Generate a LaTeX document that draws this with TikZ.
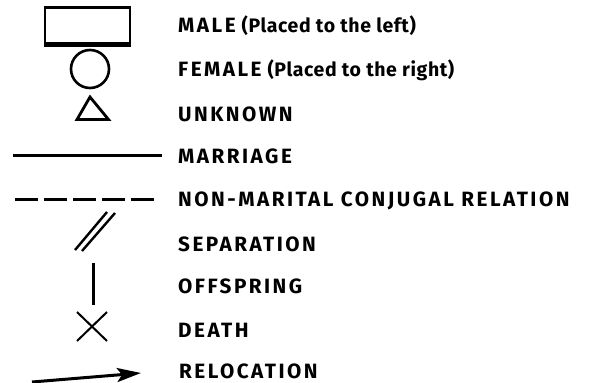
\documentclass[tikz,border=0pt]{standalone}
\usepackage{fontspec}
\setmainfont[LetterSpace=3]{Fira Sans}
\newfontfamily\capsfont[LetterSpace=12]{Fira Sans}
\newcommand\wcaps[1]{{\capsfont\fontsize{20.7}{20.7}\selectfont\bfseries #1}}
\usetikzlibrary{arrows.meta,shapes.geometric}
\tikzset{
  sym/.style={draw=black, line width=2.8pt},
  lab/.style={anchor=west, inner sep=0pt, font=\fontsize{19.5}{19.5}\selectfont\bfseries},
  ln/.style={line width=3pt},
}
\begin{document}
\begin{tikzpicture}[x=1pt,y=-1pt]
\useasboundingbox (0,0) rectangle (592,383);
% symbols
\node[sym, rectangle, minimum width=85pt, minimum height=36pt, inner sep=0pt] (male) at (87.5,25.5) {};
\draw[line width=3.6pt] (male.south west) -- (male.south east);
\node[sym, circle, minimum size=38pt, inner sep=0pt, line width=2.6pt] (female) at (90,69) {};
\coordinate (u1) at (90,97); \coordinate (u2) at (108.5,119.5); \coordinate (u3) at (77,119.5);
\draw[sym, line join=miter] (u1) -- (u2) -- (u3) -- cycle;
\coordinate (m1) at (13,155); \coordinate (m2) at (162,155);
\draw[ln] (m1) -- (m2);
\coordinate (n1) at (15,199); \coordinate (n2) at (157,199);
\draw[ln, dash pattern=on 23pt off 6pt] (n1) -- (n2);
\coordinate (s1) at (75,250); \coordinate (s2) at (107,212);
\coordinate (s3) at (82,251); \coordinate (s4) at (115,213);
\draw[line width=2.4pt] (s1) -- (s2); \draw[line width=2.4pt] (s3) -- (s4);
\coordinate (o1) at (93,263); \coordinate (o2) at (93,305);
\draw[ln] (o1) -- (o2);
\coordinate (d1) at (77,312); \coordinate (d2) at (107,341);
\coordinate (d3) at (77,341); \coordinate (d4) at (107,312);
\draw[line width=2pt] (d1) -- (d2); \draw[line width=2pt] (d3) -- (d4);
\coordinate (r1) at (32,382); \coordinate (r2) at (141,373);
\draw[ln, -{Stealth[length=24pt,width=14pt,inset=5pt]}] (r1) -- (r2);
% labels
\node[lab] (tmale) at (178,26) {\wcaps{MALE}\hspace{6pt}(Placed to the left)};
\node[lab] (tfemale) at (178,70) {\wcaps{FEMALE}\hspace{6pt}(Placed to the right)};
\node[lab] (tunk) at (178,114) {\wcaps{UNKNOWN}};
\node[lab] (tmar) at (178,156) {\wcaps{MARRIAGE}};
\node[lab] (tnon) at (178,201) {\wcaps{NON-MARITAL CONJUGAL RELATION}};
\node[lab] (tsep) at (178,244) {\wcaps{SEPARATION}};
\node[lab] (toff) at (178,286) {\wcaps{OFFSPRING}};
\node[lab] (tdea) at (178,330) {\wcaps{DEATH}};
\node[lab] (trel) at (179,371) {\wcaps{RELOCATION}};
\end{tikzpicture}
\end{document}
